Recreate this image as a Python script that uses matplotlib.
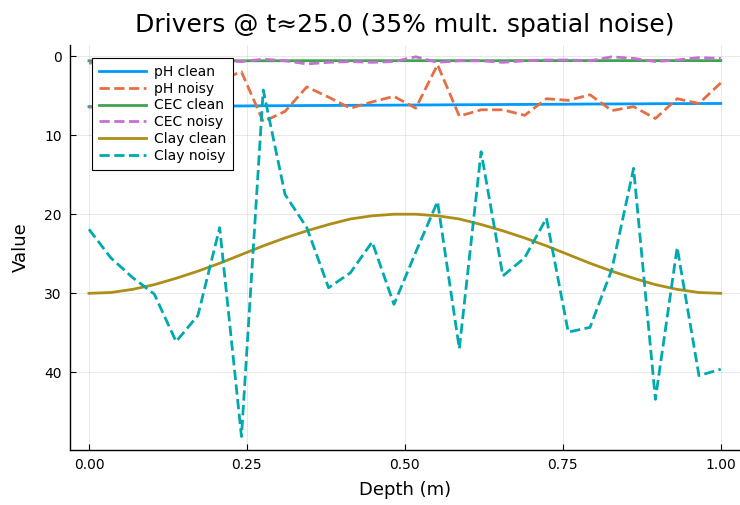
import matplotlib
matplotlib.use("Agg")
import matplotlib.pyplot as plt
import numpy as np

# depth grid: 30 points from 0 to 1 m
depth = np.linspace(0.0, 1.0, 30)

ph_clean = [6.40, 6.39, 6.38, 6.36, 6.35, 6.34, 6.32, 6.31, 6.29, 6.28,
            6.26, 6.25, 6.23, 6.22, 6.21, 6.19, 6.18, 6.16, 6.15, 6.13,
            6.12, 6.10, 6.09, 6.07, 6.06, 6.05, 6.03, 6.02, 6.01, 6.00]
ph_noisy = [6.5, 6.0, 5.5, 4.8, 5.8, 4.5, 3.0, 2.0, 8.3, 7.0,
            3.9, 5.2, 6.6, 5.8, 5.1, 6.6, 1.1, 7.6, 6.8, 6.8,
            7.5, 5.4, 5.6, 4.9, 6.9, 6.4, 7.9, 5.4, 6.0, 3.4]
cec_clean = [0.60, 0.60, 0.60, 0.60, 0.60, 0.60, 0.60, 0.60, 0.60, 0.60,
             0.59, 0.59, 0.59, 0.59, 0.59, 0.59, 0.59, 0.59, 0.59, 0.59,
             0.58, 0.58, 0.58, 0.58, 0.58, 0.58, 0.58, 0.58, 0.58, 0.58]
cec_noisy = [0.9, 0.7, 0.6, 0.8, 0.5, 0.7, 0.6, 0.7, 0.4, 0.6,
             1.0, 0.8, 0.7, 0.8, 0.7, 0.1, 0.8, 0.6, 0.6, 0.8,
             0.6, 0.5, 0.5, 0.6, 0.1, 0.3, 0.7, 0.5, 0.2, 0.3]
clay_clean = [30.0, 29.9, 29.5, 28.9, 28.1, 27.2, 26.2, 25.1, 24.0, 23.0,
              22.1, 21.3, 20.6, 20.2, 20.0, 20.0, 20.2, 20.6, 21.3, 22.1,
              23.0, 24.0, 25.1, 26.2, 27.2, 28.1, 28.9, 29.5, 29.9, 30.0]
clay_noisy = [21.9, 25.5, 28.0, 30.1, 36.1, 32.8, 21.7, 48.1, 4.3, 17.5,
              21.7, 29.3, 27.4, 23.5, 31.4, 24.8, 18.4, 37.0, 12.1, 27.8,
              25.5, 20.5, 34.9, 34.3, 27.0, 14.2, 43.4, 24.2, 40.4, 39.6]

xticks = [0.0, 0.25, 0.5, 0.75, 1.0]
xtick_labels = ["0.00", "0.25", "0.50", "0.75", "1.00"]
yticks = [0, 10, 20, 30, 40]

fig = plt.figure(figsize=(7.4, 5.05), dpi=100)
ax = fig.add_axes([0.0946, 0.109, 0.905, 0.802])

lw = 2.0
ax.plot(depth, ph_clean, color="#009AFA", lw=lw, label="pH clean")
ax.plot(depth, ph_noisy, color="#E36F47", lw=lw, ls="--", label="pH noisy")
ax.plot(depth, cec_clean, color="#3EA44E", lw=lw, label="CEC clean")
ax.plot(depth, cec_noisy, color="#C371D2", lw=lw, ls="--", label="CEC noisy")
ax.plot(depth, clay_clean, color="#AC8E18", lw=lw, label="Clay clean")
ax.plot(depth, clay_noisy, color="#00A9AD", lw=lw, ls="--", label="Clay noisy")

ax.set_xlim(-0.03, 1.03)
ax.set_ylim(49.8, -1.4)
ax.set_xticks(xticks)
ax.set_xticklabels(xtick_labels)
ax.set_yticks(yticks)
ax.tick_params(direction="in", labelsize=10, length=4, width=0.8, pad=6)
ax.grid(True, color="black", alpha=0.1, lw=0.6)
for side in ("top", "right"):
    ax.spines[side].set_visible(False)
for side in ("left", "bottom"):
    ax.spines[side].set_linewidth(1.0)

ax.set_xlabel("Depth (m)", fontsize=13, labelpad=6)
ax.set_ylabel("Value", fontsize=13, labelpad=10)
ax.set_title("Drivers @ t≈25.0 (35% mult. spatial noise)", fontsize=18, pad=9)

leg = ax.legend(loc="upper left", bbox_to_anchor=(0.022, 0.985), fontsize=10,
                frameon=True, fancybox=False, framealpha=1.0, handlelength=3.4,
                borderpad=0.5, labelspacing=0.2, handletextpad=0.6)
leg.get_frame().set_edgecolor("black")
leg.get_frame().set_linewidth(0.8)

fig.savefig("out.png", dpi=100)
